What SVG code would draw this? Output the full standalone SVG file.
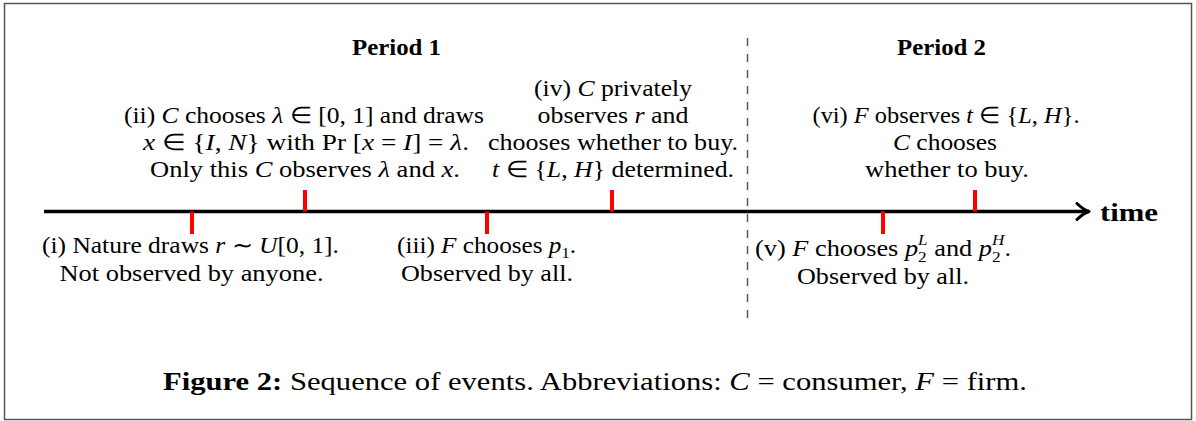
<svg xmlns="http://www.w3.org/2000/svg" width="1196" height="421" viewBox="0 0 1196 421">
<style>
.t{font-family:"Liberation Serif","Times New Roman",serif;font-size:23px;fill:#000;text-anchor:middle}
.b{font-weight:bold}
.i{font-style:italic}
.s{font-size:15px}
.tick{stroke:#ff0000;stroke-width:4;fill:none}
.axis{stroke:#000;stroke-width:3.5;fill:none}
.div{stroke:#555;stroke-width:1.5;stroke-dasharray:8 8;fill:none}
</style>
<defs>
<marker id="arrow" viewBox="0 0 16 20" refX="14" refY="10" markerWidth="16" markerHeight="20" orient="auto" markerUnits="userSpaceOnUse">
<path d="M2,2 Q8,8 14,10 Q8,12 2,18" fill="none" stroke="#000" stroke-width="3" stroke-linecap="round" stroke-linejoin="round"/>
</marker>
</defs>
<rect x="4.5" y="3.5" width="1187" height="416" fill="#fff" stroke="#555" stroke-width="1.5"/>

<g id="connectors">
<line class="div" x1="747.5" y1="38" x2="747.5" y2="326"/>
<line class="axis" x1="44" y1="211.5" x2="1089" y2="211.5" marker-end="url(#arrow)"/>
<line class="tick" x1="192" y1="211.5" x2="192" y2="234"/>
<line class="tick" x1="305" y1="190" x2="305" y2="211.5"/>
<line class="tick" x1="487" y1="211.5" x2="487" y2="234"/>
<line class="tick" x1="612" y1="190" x2="612" y2="211.5"/>
<line class="tick" x1="883" y1="211.5" x2="883" y2="234"/>
<line class="tick" x1="975" y1="190" x2="975" y2="211.5"/>
</g>

<g id="period1"><text class="t b" x="396.5" y="55" textLength="89" lengthAdjust="spacingAndGlyphs">Period 1</text></g>
<g id="period2"><text class="t b" x="941.5" y="55" textLength="89" lengthAdjust="spacingAndGlyphs">Period 2</text></g>

<g id="event-ii">
<text class="t" x="304" y="123" textLength="360" lengthAdjust="spacingAndGlyphs">(ii) <tspan class="i">C</tspan> chooses <tspan class="i">λ</tspan> ∈ [0, 1] and draws</text>
<text class="t" x="306" y="150" textLength="326" lengthAdjust="spacingAndGlyphs"><tspan class="i">x</tspan> ∈ {<tspan class="i">I</tspan>, <tspan class="i">N</tspan>} with Pr [<tspan class="i">x</tspan> = <tspan class="i">I</tspan>] = <tspan class="i">λ</tspan>.</text>
<text class="t" x="305" y="177" textLength="310" lengthAdjust="spacingAndGlyphs">Only this <tspan class="i">C</tspan> observes <tspan class="i">λ</tspan> and <tspan class="i">x</tspan>.</text>
</g>

<g id="event-iv">
<text class="t" x="613" y="96" textLength="158" lengthAdjust="spacingAndGlyphs">(iv) <tspan class="i">C</tspan> privately</text>
<text class="t" x="613" y="123" textLength="151" lengthAdjust="spacingAndGlyphs">observes <tspan class="i">r</tspan> and</text>
<text class="t" x="613" y="150" textLength="250" lengthAdjust="spacingAndGlyphs">chooses whether to buy.</text>
<text class="t" x="613" y="177" textLength="242" lengthAdjust="spacingAndGlyphs"><tspan class="i">t</tspan> ∈ {<tspan class="i">L</tspan>, <tspan class="i">H</tspan>} determined.</text>
</g>

<g id="event-vi">
<text class="t" x="946" y="123" textLength="267" lengthAdjust="spacingAndGlyphs">(vi) <tspan class="i">F</tspan> observes <tspan class="i">t</tspan> ∈ {<tspan class="i">L</tspan>, <tspan class="i">H</tspan>}.</text>
<text class="t" x="945" y="150" textLength="104" lengthAdjust="spacingAndGlyphs"><tspan class="i">C</tspan> chooses</text>
<text class="t" x="947" y="177" textLength="164" lengthAdjust="spacingAndGlyphs">whether to buy.</text>
</g>

<g id="event-i">
<text class="t" x="190.5" y="253" textLength="297" lengthAdjust="spacingAndGlyphs">(i) Nature draws <tspan class="i">r</tspan> ∼ <tspan class="i">U</tspan>[0, 1].</text>
<text class="t" x="191.5" y="281" textLength="264" lengthAdjust="spacingAndGlyphs">Not observed by anyone.</text>
</g>

<g id="event-iii">
<text class="t" x="486.5" y="253" textLength="179" lengthAdjust="spacingAndGlyphs">(iii) <tspan class="i">F</tspan> chooses <tspan class="i">p</tspan><tspan class="s" dy="5">1</tspan><tspan dy="-5">.</tspan></text>
<text class="t" x="487" y="281" textLength="172" lengthAdjust="spacingAndGlyphs">Observed by all.</text>
</g>

<g id="event-v">
<text class="t" x="883" y="256" textLength="256" lengthAdjust="spacingAndGlyphs">(v) <tspan class="i">F</tspan> chooses <tspan class="i">p</tspan><tspan class="s" dy="6">2</tspan><tspan class="s i" dx="-7.5" dy="-17">L</tspan><tspan dy="11"> and </tspan><tspan class="i">p</tspan><tspan class="s" dy="6">2</tspan><tspan class="s i" dx="-7.5" dy="-17">H</tspan><tspan dy="11">.</tspan></text>
<text class="t" x="883" y="284" textLength="172" lengthAdjust="spacingAndGlyphs">Observed by all.</text>
</g>

<g id="time-label"><text class="t b" x="1129" y="221" style="font-size:26px" textLength="58" lengthAdjust="spacingAndGlyphs">time</text></g>

<g id="caption">
<text class="t" x="595" y="390" style="font-size:26px" textLength="864" lengthAdjust="spacingAndGlyphs"><tspan class="b">Figure 2:</tspan> Sequence of events. Abbreviations: <tspan class="i">C</tspan> = consumer, <tspan class="i">F</tspan> = firm.</text>
</g>
</svg>
